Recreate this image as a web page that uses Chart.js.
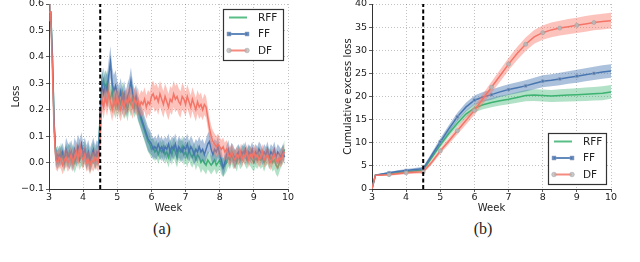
<!DOCTYPE html>
<html lang="en">
<head>
<meta charset="UTF-8">
<title>Loss and cumulative excess loss per week</title>
<script src="https://cdn.jsdelivr.net/npm/chart.js"></script>
<style>
  body { margin: 0; background: #fff; width: 640px; height: 262px; position: relative; overflow: hidden; }
  canvas { position: absolute; top: -4px; }
  #lossChart { left: 0; }
  #cumChart { left: 320px; }
  .caption { position: absolute; top: 220px; width: 60px; text-align: center;
             font-family: "Times New Roman", "Liberation Serif", serif; font-size: 16px; font-weight: 400;
             line-height: 18px; color: #222; }
</style>
</head>
<body>
<canvas id="lossChart" width="300" height="218"></canvas>
<canvas id="cumChart" width="303" height="218"></canvas>
<div class="caption" style="left:132px">(a)</div>
<div class="caption" style="left:453px">(b)</div>

<script>
// ---- data ----
const seriesNames = ['RFF', 'FF', 'DF'];
const shiftWeek = 4.5;

// (a) loss, sampled every 0.05 week
const lossWeeks = [
  3, 3.05, 3.1, 3.15, 3.2, 3.25, 3.3, 3.35, 3.4, 3.45,
  3.5, 3.55, 3.6, 3.65, 3.7, 3.75, 3.8, 3.85, 3.9, 3.95,
  4, 4.05, 4.1, 4.15, 4.2, 4.25, 4.3, 4.35, 4.4, 4.45,
  4.5, 4.55, 4.6, 4.65, 4.7, 4.75, 4.8, 4.85, 4.9, 4.95,
  5, 5.05, 5.1, 5.15, 5.2, 5.25, 5.3, 5.35, 5.4, 5.45,
  5.5, 5.55, 5.6, 5.65, 5.7, 5.75, 5.8, 5.85, 5.9, 5.95,
  6, 6.05, 6.1, 6.15, 6.2, 6.25, 6.3, 6.35, 6.4, 6.45,
  6.5, 6.55, 6.6, 6.65, 6.7, 6.75, 6.8, 6.85, 6.9, 6.95,
  7, 7.05, 7.1, 7.15, 7.2, 7.25, 7.3, 7.35, 7.4, 7.45,
  7.5, 7.55, 7.6, 7.65, 7.7, 7.75, 7.8, 7.85, 7.9, 7.95,
  8, 8.05, 8.1, 8.15, 8.2, 8.25, 8.3, 8.35, 8.4, 8.45,
  8.5, 8.55, 8.6, 8.65, 8.7, 8.75, 8.8, 8.85, 8.9, 8.95,
  9, 9.05, 9.1, 9.15, 9.2, 9.25, 9.3, 9.35, 9.4, 9.45,
  9.5, 9.55, 9.6, 9.65, 9.7, 9.75, 9.8, 9.85, 9.9
];
const rffLoss = [
  0.57, 0.57, 0.40, 0.15, 0.02, 0.03, 0.01, 0.04, 0.02, 0.00,
  0.03, 0.02, 0.04, 0.01, 0.03, 0.00, 0.02, 0.04, 0.01, 0.03,
  0.02, 0.04, 0.01, 0.03, 0.00, 0.02, 0.04, 0.01, 0.03, 0.02,
  0.20, 0.28, 0.31, 0.27, 0.30, 0.26, 0.24, 0.27, 0.22, 0.25,
  0.21, 0.24, 0.22, 0.26, 0.21, 0.23, 0.20, 0.24, 0.22, 0.25,
  0.21, 0.23, 0.20, 0.18, 0.16, 0.14, 0.12, 0.10, 0.08, 0.07,
  0.05, 0.06, 0.04, 0.05, 0.03, 0.05, 0.04, 0.06, 0.03, 0.04,
  0.02, 0.05, 0.03, 0.06, 0.04, 0.02, 0.05, 0.04, 0.06, 0.03,
  0.04, 0.02, 0.05, 0.03, 0.02, 0.04, 0.01, 0.03, 0.02, 0.00,
  0.01, 0.00, -0.01, 0.01, 0.00, -0.01, 0.00, 0.01, -0.01, 0.00,
  0.01, -0.01, -0.02, -0.01, 0.00, 0.02, 0.01, 0.03, 0.01, 0.02,
  0.00, 0.03, 0.01, 0.02, 0.04, 0.02, 0.01, 0.03, 0.02, 0.01,
  0.00, 0.02, 0.01, 0.03, 0.01, 0.02, 0.00, 0.02, 0.03, 0.01,
  0.02, 0.00, 0.01, -0.01, -0.02, 0.00, 0.02, 0.03, 0.05
];
const ffLoss = [
  0.57, 0.57, 0.40, 0.15, 0.02, 0.01, 0.03, 0.02, 0.04, 0.01,
  0.05, 0.03, 0.02, 0.04, 0.01, 0.05, 0.03, 0.06, 0.04, 0.07,
  0.03, 0.05, 0.02, 0.04, 0.01, 0.03, 0.05, 0.02, 0.04, 0.03,
  0.18, 0.30, 0.26, 0.29, 0.27, 0.33, 0.38, 0.30, 0.27, 0.29,
  0.26, 0.24, 0.27, 0.23, 0.26, 0.22, 0.25, 0.27, 0.31, 0.26,
  0.23, 0.25, 0.21, 0.19, 0.17, 0.15, 0.13, 0.11, 0.09, 0.08,
  0.07, 0.05, 0.06, 0.05, 0.07, 0.05, 0.06, 0.04, 0.06, 0.05,
  0.07, 0.04, 0.06, 0.05, 0.07, 0.04, 0.06, 0.05, 0.04, 0.06,
  0.05, 0.07, 0.04, 0.06, 0.05, 0.03, 0.05, 0.04, 0.06, 0.04,
  0.05, 0.03, 0.05, 0.07, 0.08, 0.05, 0.03, 0.05, 0.04, 0.06,
  0.03, 0.01, -0.02, 0.00, 0.03, 0.05, 0.02, 0.04, 0.03, 0.01,
  0.03, 0.04, 0.02, 0.04, 0.03, 0.05, 0.02, 0.04, 0.03, 0.05,
  0.02, 0.04, 0.03, 0.05, 0.04, 0.02, 0.04, 0.03, 0.05, 0.02,
  0.04, 0.03, 0.05, 0.02, 0.04, 0.03, 0.02, 0.04, 0.02
];
const dfLoss = [
  0.57, 0.57, 0.35, 0.12, 0.01, 0.00, 0.02, 0.01, -0.01, 0.01,
  0.02, 0.00, 0.01, 0.03, 0.00, 0.02, 0.04, 0.01, 0.06, 0.02,
  0.01, 0.03, 0.00, 0.01, -0.01, 0.01, 0.00, 0.02, 0.01, 0.00,
  0.10, 0.24, 0.21, 0.25, 0.22, 0.26, 0.23, 0.20, 0.24, 0.21,
  0.25, 0.22, 0.20, 0.23, 0.21, 0.24, 0.22, 0.25, 0.23, 0.21,
  0.24, 0.22, 0.24, 0.21, 0.23, 0.22, 0.24, 0.21, 0.23, 0.22,
  0.25, 0.26, 0.24, 0.25, 0.23, 0.26, 0.24, 0.22, 0.25, 0.23,
  0.21, 0.24, 0.23, 0.26, 0.24, 0.25, 0.23, 0.22, 0.25, 0.24,
  0.22, 0.25, 0.23, 0.21, 0.24, 0.22, 0.20, 0.23, 0.21, 0.22,
  0.20, 0.22, 0.21, 0.17, 0.13, 0.10, 0.08, 0.07, 0.06, 0.07,
  0.06, 0.05, 0.06, 0.04, 0.05, 0.03, 0.02, 0.04, 0.02, 0.01,
  0.03, 0.02, 0.04, 0.01, 0.03, 0.02, 0.04, 0.01, 0.03, 0.02,
  0.04, 0.02, 0.03, 0.01, 0.02, 0.04, 0.01, 0.02, 0.03, 0.01,
  0.00, 0.02, 0.03, 0.01, 0.00, 0.02, 0.01, 0.03, 0.04
];
// half-width of the shaded band, one value per half week (3.0-3.5, 3.5-4.0, ...)
const rffLossSpread = [0.035, 0.04, 0.04, 0.05, 0.045, 0.04, 0.035, 0.04, 0.04, 0.035, 0.035, 0.035, 0.035, 0.035];
const ffLossSpread  = [0.035, 0.045, 0.045, 0.06, 0.05, 0.045, 0.04, 0.04, 0.04, 0.04, 0.035, 0.03, 0.03, 0.03];
const dfLossSpread  = [0.035, 0.035, 0.035, 0.045, 0.045, 0.045, 0.05, 0.05, 0.045, 0.04, 0.035, 0.03, 0.03, 0.03];

// (b) cumulative excess loss
const cumWeeks = [3, 3.1, 3.25, 3.5, 3.75, 4, 4.25, 4.5, 4.75, 5, 5.25, 5.5, 5.75, 6, 6.25,
                  6.5, 6.75, 7, 7.25, 7.5, 7.75, 8, 8.25, 8.5, 8.75, 9, 9.25, 9.5, 9.75, 10];
const rffCum = [0, 3.0, 3.1, 3.3, 3.5, 3.7, 3.9, 4.1, 6.8, 9.5, 12.0, 14.2, 16.2, 17.5, 18.2,
                18.7, 19.1, 19.4, 19.8, 20.2, 20.3, 20.2, 20.1, 20.2, 20.3, 20.4, 20.5, 20.6, 20.7, 21.0];
const ffCum  = [0, 3.0, 3.2, 3.5, 3.8, 4.0, 4.2, 4.4, 7.3, 10.2, 13.0, 15.6, 17.7, 19.2, 19.9,
                20.4, 21.0, 21.5, 21.9, 22.3, 22.8, 23.3, 23.5, 23.8, 24.1, 24.4, 24.7, 25.0, 25.3, 25.5];
const dfCum  = [0, 3.0, 3.0, 3.1, 3.3, 3.5, 3.6, 3.7, 5.8, 8.2, 10.4, 12.6, 14.8, 17.0, 19.5,
                22.0, 24.5, 27.0, 29.3, 31.3, 32.9, 33.8, 34.4, 34.8, 35.1, 35.4, 35.7, 36.0, 36.2, 36.4];
const rffCumSpread = [0, 0.1, 0.15, 0.2, 0.25, 0.25, 0.3, 0.3, 0.5, 0.6, 0.7, 0.75, 0.8, 0.9, 0.95,
                      1.0, 1.05, 1.1, 1.15, 1.2, 1.25, 1.3, 1.3, 1.35, 1.4, 1.4, 1.45, 1.45, 1.5, 1.5];
const ffCumSpread  = [0, 0.1, 0.15, 0.2, 0.25, 0.3, 0.35, 0.4, 0.55, 0.7, 0.8, 0.9, 0.95, 1.0, 1.05,
                      1.1, 1.1, 1.15, 1.2, 1.2, 1.25, 1.3, 1.3, 1.35, 1.35, 1.4, 1.4, 1.45, 1.45, 1.45];
const dfCumSpread  = [0, 0.1, 0.15, 0.2, 0.25, 0.3, 0.3, 0.35, 0.5, 0.6, 0.7, 0.8, 0.9, 1.0, 1.1,
                      1.2, 1.3, 1.35, 1.4, 1.45, 1.5, 1.55, 1.6, 1.6, 1.65, 1.65, 1.7, 1.7, 1.7, 1.7];

// ---- styles ----
const lineColors = { RFF: 'rgb(60,179,113)', FF: 'rgb(72,118,176)', DF: 'rgb(244,117,104)' };
const bandColors = { RFF: 'rgba(60,179,113,0.4)', FF: 'rgba(72,118,176,0.45)', DF: 'rgba(248,122,108,0.45)' };
const markers = { RFF: null, FF: 'rect', DF: 'circle' };
const markerFill = { FF: 'rgb(72,118,176)', DF: 'rgba(185,185,185,0.9)' };
const markerEdge = { FF: 'rgb(150,165,190)', DF: 'rgb(160,160,160)' };
const textColor = '#222';
const gridColor = 'rgba(0,0,0,0.3)';
Chart.defaults.font.family = 'DejaVu Sans';

function onHalfWeek(w) {
  const d = w * 2;
  return Math.abs(d - Math.round(d)) < 1e-6 && w > 3 && w < 10;
}

// band (lower + upper with fill) and line for one series, drawn in matplotlib order
function seriesDatasets(name, weeks, values, spreadAt, layer, markerSize) {
  const pts = (sign) => weeks.map((w, i) => ({ x: w, y: values[i] + sign * spreadAt(i, w) }));
  return [
    { data: pts(-1), borderWidth: 0, pointRadius: 0, fill: false, order: layer + 1 },
    { data: pts(1), borderWidth: 0, pointRadius: 0, fill: '-1', backgroundColor: bandColors[name], order: layer + 1 },
    {
      label: name, data: pts(0), borderColor: lineColors[name], borderWidth: 1.5,
      pointRadius: ctx => markers[name] && markerSize && onHalfWeek(weeks[ctx.dataIndex]) ? markerSize : 0,
      pointStyle: markers[name] || 'circle',
      pointBackgroundColor: markerFill[name], pointBorderColor: markerEdge[name], pointBorderWidth: 0.6,
      fill: false, order: layer
    }
  ];
}

function buildDatasets(weeks, list, yMin, yMax, markerSize) {
  let sets = [];
  list.forEach((s, k) => {
    sets = sets.concat(seriesDatasets(s.name, weeks, s.values, s.spread, 10 - 3 * k, markerSize));
  });
  sets.push({
    data: [{ x: shiftWeek, y: yMin }, { x: shiftWeek, y: yMax }],
    borderColor: '#000', borderWidth: 2, borderDash: [4, 2.5], pointRadius: 0, fill: false, order: 0
  });
  return sets;
}

// legend drawn inside the plot, with a frame
const boxLegend = {
  id: 'boxLegend',
  afterDraw(chart, args, opts) {
    const { ctx, chartArea } = chart;
    const left = Math.round(chartArea.right - opts.inset - opts.width);
    const top = Math.round(opts.corner === 'top' ? chartArea.top + opts.inset : chartArea.bottom - opts.inset - opts.height);
    ctx.save();
    ctx.fillStyle = '#fff';
    ctx.fillRect(left, top, opts.width, opts.height);
    ctx.strokeStyle = '#333';
    ctx.lineWidth = 1.2;
    ctx.strokeRect(left + 0.5, top + 0.5, opts.width, opts.height);
    ctx.font = '10.5px "DejaVu Sans"';
    ctx.textBaseline = 'middle';
    seriesNames.forEach((name, i) => {
      const y = top + 8.5 + i * 16.5;
      const x0 = left + 6, x1 = left + 24;
      ctx.strokeStyle = lineColors[name];
      ctx.globalAlpha = 0.85;
      ctx.lineWidth = 2;
      ctx.beginPath(); ctx.moveTo(x0, y); ctx.lineTo(x1, y); ctx.stroke();
      if (markers[name]) {
        [x0, x1].forEach(px => {
          ctx.fillStyle = markerFill[name];
          ctx.strokeStyle = markerEdge[name];
          ctx.lineWidth = 0.6;
          ctx.beginPath();
          if (markers[name] === 'rect') ctx.rect(px - 2, y - 2, 4, 4);
          else ctx.arc(px, y, 2.3, 0, Math.PI * 2);
          ctx.fill(); ctx.stroke();
        });
      }
      ctx.globalAlpha = 1;
      ctx.fillStyle = textColor;
      ctx.fillText(name, left + 35, y + 0.5);
    });
    ctx.restore();
  }
};

function axisCommon() {
  return {
    grid: { color: gridColor, lineWidth: 0.8, tickColor: '#333', tickLength: 3, tickBorderDash: [], drawTicks: true },
    border: { display: true, color: '#333', width: 1, dash: [1, 2] }
  };
}

function makeChart(id, datasets, y, legend) {
  new Chart(document.getElementById(id), {
    type: 'line',
    data: { datasets: datasets },
    options: {
      responsive: false,
      animation: false,
      events: [],
      layout: { padding: { top: 8, right: 12, bottom: 0, left: 0 } },
      plugins: { legend: { display: false }, tooltip: { enabled: false }, boxLegend: legend },
      scales: {
        x: Object.assign(axisCommon(), {
          type: 'linear', min: 3, max: 10,
          ticks: { stepSize: 1, color: textColor, font: { size: 9.5, lineHeight: 1 }, padding: 1, maxRotation: 0 },
          title: { display: true, text: 'Week', color: textColor, font: { size: 10, lineHeight: 1.2 }, padding: 0 },
          afterFit: s => { s.height = 25; }
        }),
        y: Object.assign(axisCommon(), {
          type: 'linear', min: y.min, max: y.max,
          ticks: { stepSize: y.step, color: textColor, font: { size: 9.5, lineHeight: 1.2 }, padding: 2, callback: y.format },
          title: { display: true, text: y.title, color: textColor, font: { size: 10, lineHeight: 1.2 }, padding: { top: y.titlePad, bottom: 0 } },
          afterFit: s => { s.width = y.width; }
        })
      }
    },
    plugins: [boxLegend]
  });
}

const lossSeries = [
  { name: 'RFF', values: rffLoss, spread: (i, w) => rffLossSpread[Math.min(13, Math.floor((w - 3) * 2 + 1e-6))] },
  { name: 'FF', values: ffLoss, spread: (i, w) => ffLossSpread[Math.min(13, Math.floor((w - 3) * 2 + 1e-6))] },
  { name: 'DF', values: dfLoss, spread: (i, w) => dfLossSpread[Math.min(13, Math.floor((w - 3) * 2 + 1e-6))] }
];
const cumSeries = [
  { name: 'RFF', values: rffCum, spread: i => rffCumSpread[i] },
  { name: 'FF', values: ffCum, spread: i => ffCumSpread[i] },
  { name: 'DF', values: dfCum, spread: i => dfCumSpread[i] }
];

makeChart('lossChart', buildDatasets(lossWeeks, lossSeries, -0.1, 0.6, 0),
  { min: -0.1, max: 0.6, step: 0.1, title: 'Loss', width: 49, titlePad: 10,
    format: v => (v < -1e-9 ? '\u2212' : '') + Math.abs(v).toFixed(1) },
  { corner: 'top', inset: 5, width: 60, height: 51 });

makeChart('cumChart', buildDatasets(cumWeeks, cumSeries, 0, 40, 2),
  { min: 0, max: 40, step: 5, title: 'Cumulative excess loss', width: 52, titlePad: 22,
    format: v => String(v) },
  { corner: 'bottom', inset: 5, width: 58, height: 51 });
</script>
</body>
</html>
